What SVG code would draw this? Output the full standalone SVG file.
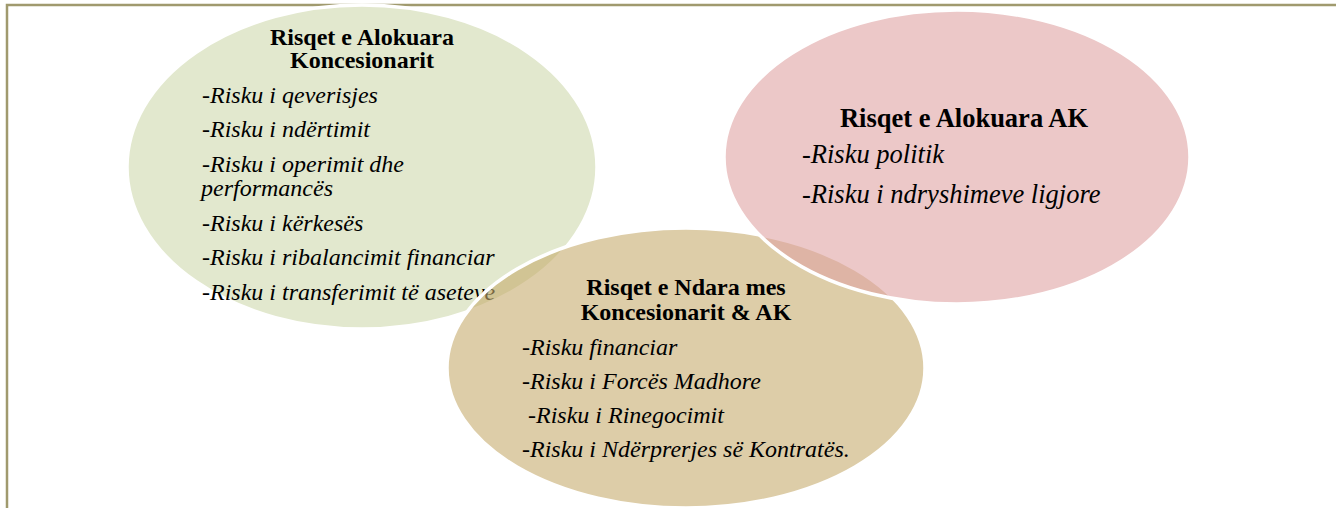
<svg xmlns="http://www.w3.org/2000/svg" width="1336" height="508" viewBox="0 0 1336 508">
<style>
.t{font-family:"Liberation Serif","Times New Roman",serif;font-weight:bold;fill:#000;text-anchor:middle}
.i{font-family:"Liberation Serif","Times New Roman",serif;font-style:italic;fill:#000}
.s24{font-size:24px}
.s26{font-size:26.5px}
.sh{stroke:#fff;stroke-width:3.5}
</style>
<rect width="1336" height="508" fill="#fff"/>
<path d="M7,508 V5 H1336" fill="none" stroke="#A09A6E" stroke-width="2.5"/>
<g id="node-koncesionari">
<ellipse cx="362" cy="167" rx="235" ry="162" fill="#E2E8CE" class="sh"/>
<text class="t s24" x="362" y="45">Risqet e Alokuara</text>
<text class="t s24" x="362" y="68">Koncesionarit</text>
<text class="i s24" x="202" y="103">-Risku i qeverisjes</text>
<text class="i s24" x="202" y="137">-Risku i ndërtimit</text>
<text class="i s24" x="202" y="172">-Risku i operimit dhe</text>
<text class="i s24" x="201" y="196">performancës</text>
<text class="i s24" x="202" y="231">-Risku i kërkesës</text>
<text class="i s24" x="202" y="265">-Risku i ribalancimit financiar</text>
<text class="i s24" x="202" y="300">-Risku i transferimit të aseteve</text>
</g>
<g id="node-ndara">
<ellipse cx="686" cy="368" rx="239" ry="140" fill="#C6AC6E" fill-opacity="0.6" class="sh"/>
<text class="t s24" x="686" y="295">Risqet e Ndara mes</text>
<text class="t s24" x="686" y="320">Koncesionarit &amp; AK</text>
<text class="i s24" x="522" y="355">-Risku financiar</text>
<text class="i s24" x="522" y="389">-Risku i Forcës Madhore</text>
<text class="i s24" x="528" y="423">-Risku i Rinegocimit</text>
<text class="i s24" x="522" y="457">-Risku i Ndërprerjes së Kontratës.</text>
</g>
<g id="node-ak">
<ellipse cx="957" cy="157" rx="233" ry="147" fill="#DFA3A3" fill-opacity="0.6" class="sh"/>
<text class="t s26" x="964" y="127">Risqet e Alokuara AK</text>
<text class="i s26" x="802" y="163">-Risku politik</text>
<text class="i s26" x="802" y="203">-Risku i ndryshimeve ligjore</text>
</g>
<g id="connectors"/>
</svg>
